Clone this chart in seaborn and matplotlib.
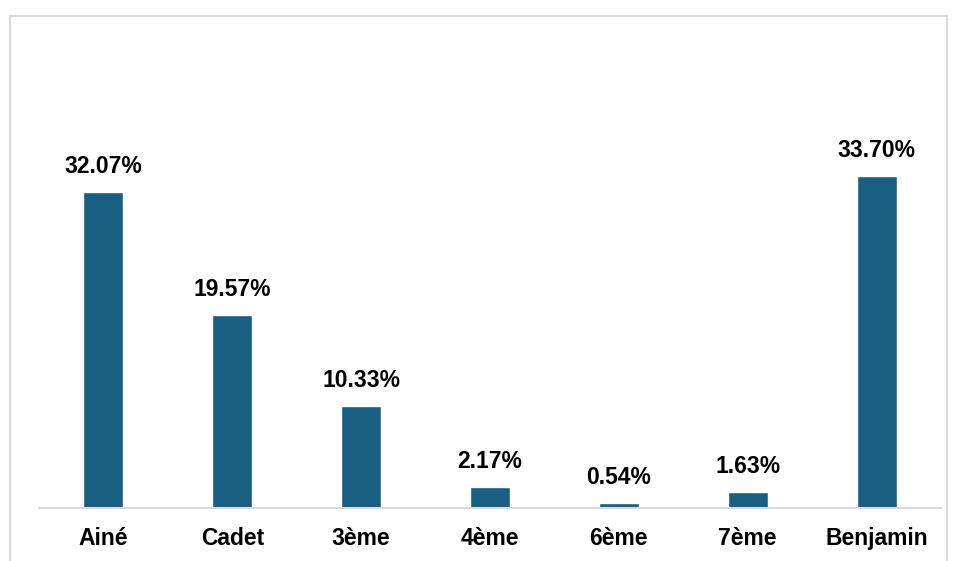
import pandas as pd
import seaborn as sns
import matplotlib.pyplot as plt
from matplotlib.patches import Rectangle

categories = ["Ainé", "Cadet", "3ème", "4ème", "6ème", "7ème", "Benjamin"]
values = [32.07, 19.57, 10.33, 2.17, 0.54, 1.63, 33.70]

df = pd.DataFrame({"rang": categories, "pct": values})

sns.set_style("white")
plt.rcParams["font.family"] = ["Liberation Sans", "DejaVu Sans"]
plt.rcParams["text.color"] = "black"
plt.rcParams["xtick.color"] = "black"

fig = plt.figure(figsize=(9.55, 5.61), dpi=100)
ax = fig.add_axes([39 / 955, 53 / 561, 902 / 955, 394 / 561])

sns.barplot(data=df, x="rang", y="pct", color="#195F82", width=0.31,
            saturation=1, ax=ax)

ax.set_ylim(0, 40)
ax.set_xlim(-0.5, len(categories) - 0.5)
ax.set_xlabel("")
ax.set_ylabel("")
ax.set_yticks([])
ax.tick_params(axis="x", length=0, pad=14, labelcolor="black")
for lab in ax.get_xticklabels():
    lab.set_fontsize(16.5)
    lab.set_fontweight("bold")

for sp in ["top", "right", "left"]:
    ax.spines[sp].set_visible(False)
ax.spines["bottom"].set_color("#d9d9d9")
ax.spines["bottom"].set_linewidth(1.5)

for i, v in enumerate(values):
    ax.annotate(f"{v:.2f}%", (i, v), xytext=(0, 10), textcoords="offset points",
                ha="center", va="bottom", fontsize=16.5, fontweight="bold",
                color="black")

# outer frame
fig.patches.append(Rectangle((10 / 955, -0.1), 937 / 955, 1.1 - 16 / 561,
                             transform=fig.transFigure, fill=False,
                             edgecolor="#d9d9d9", linewidth=1.5))

fig.savefig("out.png", dpi=100)
